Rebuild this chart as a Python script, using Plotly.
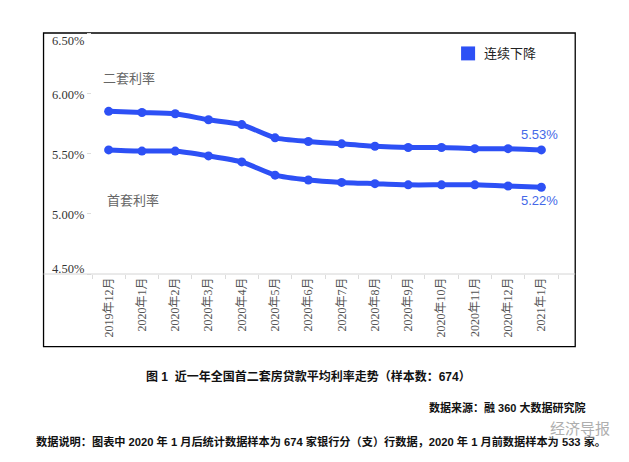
import plotly.graph_objects as go

# 数据：近一年全国首二套房贷款平均利率（%）
months = ['2019年12月', '2020年1月', '2020年2月', '2020年3月', '2020年4月', '2020年5月',
          '2020年6月', '2020年7月', '2020年8月', '2020年9月', '2020年10月', '2020年11月',
          '2020年12月', '2021年1月']
second_rate = [5.85, 5.84, 5.83, 5.78, 5.74, 5.63, 5.60, 5.58, 5.56, 5.55, 5.55, 5.54, 5.54, 5.53]
first_rate = [5.53, 5.52, 5.52, 5.48, 5.43, 5.32, 5.28, 5.26, 5.25, 5.24, 5.24, 5.24, 5.23, 5.22]
y_ticks = [4.5, 5.0, 5.5, 6.0, 6.5]
y_tick_text = ['4.50%', '5.00%', '5.50%', '6.00%', '6.50%']

W, H = 629, 462
L, R, T, B = 92.4, 557.8, 32.5, 274.5   # 绘图区像素位置

def px(x):
    return (x - L) / (R - L)

def py(y):
    return (B - y) / (B - T)

BLUE = '#2d50f5'
CJK = "'Liberation Sans', 'Noto Sans CJK SC', sans-serif"
SERIF = "'Liberation Serif', 'Noto Sans CJK SC', serif"

fig = go.Figure()
for vals in [second_rate, first_rate]:
    fig.add_trace(go.Scatter(
        x=months, y=vals, mode='lines+markers',
        line=dict(color=BLUE, width=5, shape='spline', smoothing=0.6),
        marker=dict(color=BLUE, size=9),
        showlegend=False, hoverinfo='x+y'
    ))

shapes = [
    # 外框
    dict(type='rect', xref='paper', yref='paper', x0=px(44), x1=px(575), y0=py(347.5), y1=py(32.5),
         line=dict(color='black', width=1.3), layer='below'),
    # 横轴线
    dict(type='line', xref='paper', yref='paper', x0=px(44), x1=px(575), y0=0, y1=0,
         line=dict(color='#d4d4d4', width=1)),
    # 图例方块
    dict(type='rect', xref='paper', yref='paper', x0=px(461), x1=px(475), y0=py(60), y1=py(46),
         fillcolor=BLUE, line=dict(width=0)),
]

annotations = []
# 纵轴刻度标签（两端标签向内收）
y_shift = {4.5: 5.5, 5.0: -1, 5.5: -1.5, 6.0: -2, 6.5: -7.5}
for v, t in zip(y_ticks, y_tick_text):
    annotations.append(dict(xref='paper', yref='y', x=px(86), y=v, text=t, showarrow=False,
                            xanchor='right', yanchor='middle', yshift=y_shift[v],
                            font=dict(family=SERIF, size=12.5, color='#333')))

annotations += [
    dict(xref='paper', yref='paper', x=px(482), y=py(53), text='连续下降', showarrow=False,
         xanchor='left', yanchor='middle', font=dict(family=CJK, size=13, color='#222')),
    dict(xref='paper', yref='paper', x=px(101), y=py(78), text='二套利率', showarrow=False,
         xanchor='left', yanchor='middle', font=dict(family=CJK, size=13, color='#666')),
    dict(xref='paper', yref='paper', x=px(105), y=py(201), text='首套利率', showarrow=False,
         xanchor='left', yanchor='middle', font=dict(family=CJK, size=13, color='#666')),
    dict(xref='paper', yref='paper', x=px(519), y=py(134), text='%.2f%%' % second_rate[-1], showarrow=False,
         xanchor='left', yanchor='middle', font=dict(family="'Liberation Sans', sans-serif", size=13, color='#4468e8')),
    dict(xref='paper', yref='paper', x=px(519), y=py(201), text='%.2f%%' % first_rate[-1], showarrow=False,
         xanchor='left', yanchor='middle', font=dict(family="'Liberation Sans', sans-serif", size=13, color='#4468e8')),
    # 图题、来源、说明
    dict(xref='paper', yref='paper', x=px(309), y=py(377), text='<b>图 1  近一年全国首二套房贷款平均利率走势（样本数：674）</b>',
         showarrow=False, xanchor='center', yanchor='middle', font=dict(family=CJK, size=12, color='#111')),
    dict(xref='paper', yref='paper', x=px(587), y=py(409), text='<b>数据来源：融 360 大数据研究院</b>',
         showarrow=False, xanchor='right', yanchor='middle', font=dict(family=CJK, size=11, color='#111')),
    dict(xref='paper', yref='paper', x=px(34), y=py(443), text='<b>数据说明：图表中 2020 年 1 月后统计数据样本为 674 家银行分（支）行数据，2020 年 1 月前数据样本为 533 家。</b>',
         showarrow=False, xanchor='left', yanchor='middle', font=dict(family=CJK, size=11.2, color='#111')),
    # 水印
    dict(xref='paper', yref='paper', x=px(612), y=py(430), text='经济导报', showarrow=False,
         xanchor='right', yanchor='middle', opacity=0.8, bgcolor='rgba(255,255,255,0.55)',
         font=dict(family=CJK, size=15, color='#9a9a9a')),
]

fig.update_layout(
    width=W, height=H,
    margin=dict(l=L, r=W - R, t=T, b=H - B, pad=0),
    paper_bgcolor='white', plot_bgcolor='white',
    shapes=shapes, annotations=annotations,
    xaxis=dict(
        range=[-0.5, len(months) - 0.5], showgrid=False, showline=False, zeroline=False,
        tickangle=-90, ticks='outside', tickson='boundaries', ticklen=4, tickcolor='#dcdcdc',
        tickfont=dict(family=SERIF, size=12, color='#555')
    ),
    yaxis=dict(
        range=[4.5, 6.5], tickvals=y_ticks, showticklabels=False, showgrid=False,
        showline=False, zeroline=False, ticks='outside', ticklen=4, tickcolor='#dcdcdc'
    ),
)

fig.write_html("out.html", config={'displayModeBar': False},
               post_script="document.body.style.margin='0px';")
